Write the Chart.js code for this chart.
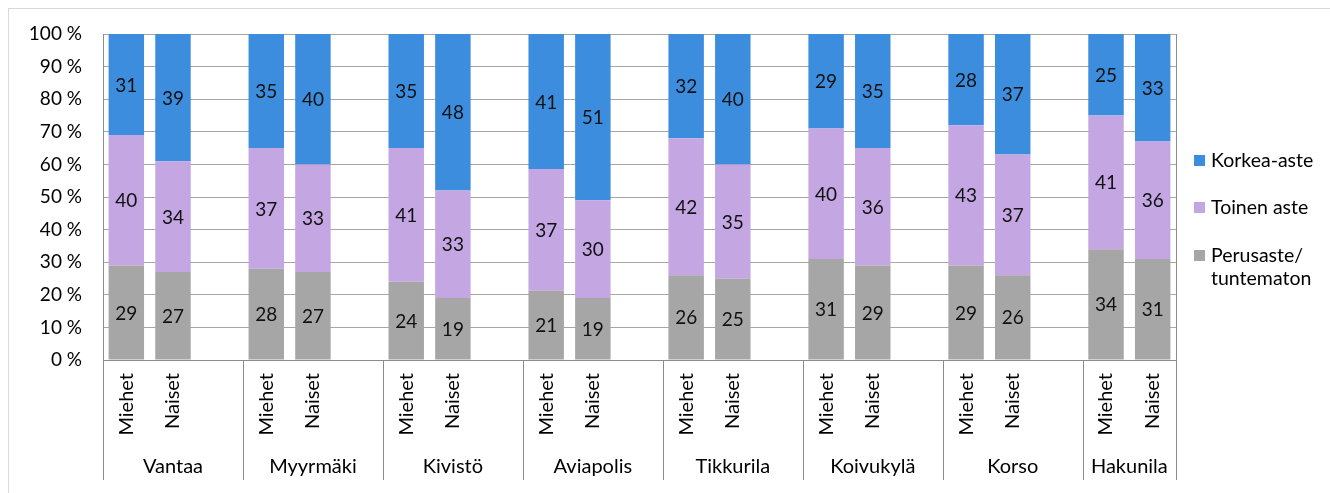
<!DOCTYPE html>
<html>
<head>
<meta charset="utf-8">
<script src="https://cdn.jsdelivr.net/npm/chart.js@4"></script>
<style>
  html, body { margin: 0; padding: 0; background: #fff; }
  #wrap { position: relative; width: 1330px; height: 493px; overflow: hidden; }
  #frame { position: absolute; left: 8px; top: 8px; width: 1340px; height: 500px; border: 1.5px solid #d9d9d9; box-sizing: border-box; }
  canvas { position: absolute; left: 0; top: 0; }
  #legend { position: absolute; left: 1194px; top: 0; font-family: Lato, "Open Sans", sans-serif; font-size: 19.5px; color: #000; }
  .item { position: absolute; left: 0; white-space: nowrap; line-height: 23px; }
  .box { position: absolute; left: 0; width: 11px; height: 11px; }
  .txt { position: absolute; left: 17px; }
</style>
</head>
<body>
<div id="wrap">
  <div id="frame"></div>
  <canvas id="c" width="1330" height="493"></canvas>
  <div id="legend"></div>
</div>
<script>
const groups = ['Vantaa', 'Myyrmäki', 'Kivistö', 'Aviapolis', 'Tikkurila', 'Koivukylä', 'Korso', 'Hakunila'];
const sexes = ['Miehet', 'Naiset'];
const seriesNames = ['Perusaste/\ntuntematon', 'Toinen aste', 'Korkea-aste'];
const seriesColors = ['#a6a6a6', '#c3a6e2', '#3c8ddd'];
const perusMiehet  = [29, 28, 24, 21, 26, 31, 29, 34];
const perusNaiset  = [27, 27, 19, 19, 25, 29, 26, 31];
const toinenMiehet = [40, 37, 41, 37, 42, 40, 43, 41];
const toinenNaiset = [34, 33, 33, 30, 35, 36, 37, 36];
const korkeaMiehet = [31, 35, 35, 41, 32, 29, 28, 25];
const korkeaNaiset = [39, 40, 48, 51, 40, 35, 37, 33];
const yTicks = [0, 10, 20, 30, 40, 50, 60, 70, 80, 90, 100];

// Build slot layout: Miehet, Naiset, spacer per group (no spacer after last)
const labels = [];
const raw = [[], [], []];
const groupSlots = [];
const seriesM = [perusMiehet, toinenMiehet, korkeaMiehet];
const seriesN = [perusNaiset, toinenNaiset, korkeaNaiset];
groups.forEach((g, gi) => {
  const start = labels.length;
  labels.push(sexes[0]); raw.forEach((r, si) => r.push(seriesM[si][gi]));
  labels.push(sexes[1]); raw.forEach((r, si) => r.push(seriesN[si][gi]));
  if (gi < groups.length - 1) { labels.push(''); raw.forEach(r => r.push(null)); }
  groupSlots.push([start, labels.length - 1]);
});
const totals = labels.map((_, i) => raw[0][i] === null ? null : raw[0][i] + raw[1][i] + raw[2][i]);
const pct = raw.map(r => r.map((v, i) => v === null ? null : v / totals[i] * 100));

const FONT = 'Lato, "Open Sans", sans-serif';

const datasets = seriesNames.map((name, si) => ({
  label: name,
  data: pct[si],
  rawData: raw[si],
  backgroundColor: seriesColors[si],
  borderWidth: 0,
  barPercentage: 0.76,
  categoryPercentage: 1.0
}));

const decorPlugin = {
  id: 'decor',
  afterDatasetsDraw(chart) {
    const ctx = chart.ctx;
    ctx.save();
    ctx.font = '19px ' + FONT;
    ctx.fillStyle = '#111';
    ctx.textAlign = 'center';
    ctx.textBaseline = 'middle';
    chart.data.datasets.forEach((ds, di) => {
      const meta = chart.getDatasetMeta(di);
      meta.data.forEach((bar, i) => {
        const v = ds.rawData[i];
        if (v === null) return;
        const p = bar.getProps(['x', 'y', 'base'], true);
        ctx.fillText(String(v), p.x, (p.y + p.base) / 2 + 1);
      });
    });
    ctx.restore();
  },
  afterDraw(chart) {
    const ctx = chart.ctx;
    const xs = chart.scales.x;
    const area = chart.chartArea;
    const half = (xs.getPixelForValue(1) - xs.getPixelForValue(0)) / 2;
    ctx.save();
    ctx.strokeStyle = '#8c8c8c';
    ctx.lineWidth = 1;
    ctx.beginPath();
    ctx.moveTo(Math.round(area.right) + 0.5, area.top);
    ctx.lineTo(Math.round(area.right) + 0.5, area.bottom);
    ctx.stroke();
    const bounds = [];
    groupSlots.forEach(([s, e], gi) => {
      bounds.push(xs.getPixelForValue(s) - half);
      if (gi === groupSlots.length - 1) bounds.push(xs.getPixelForValue(e) + half);
    });
    bounds.forEach(b => {
      const x = Math.round(b) + 0.5;
      ctx.beginPath();
      ctx.moveTo(x, area.bottom);
      ctx.lineTo(x, 480);
      ctx.stroke();
    });
    ctx.font = '20px ' + FONT;
    ctx.fillStyle = '#000';
    ctx.textAlign = 'center';
    ctx.textBaseline = 'middle';
    groupSlots.forEach(([s, e], gi) => {
      const l = xs.getPixelForValue(s) - half;
      const r = xs.getPixelForValue(e) + half;
      ctx.fillText(groups[gi], (l + r) / 2, 467);
    });
    ctx.restore();
  }
};

new Chart(document.getElementById('c'), {
  type: 'bar',
  data: { labels, datasets },
  options: {
    responsive: false,
    animation: false,
    layout: { padding: { left: 0, right: 154, top: 34, bottom: 0 } },
    plugins: { legend: { display: false }, tooltip: { enabled: false } },
    scales: {
      x: {
        stacked: true,
        grid: { display: false, drawTicks: false },
        border: { display: true, color: '#8c8c8c', width: 1 },
        ticks: {
          minRotation: 90, maxRotation: 90, autoSkip: false,
          padding: 13, color: '#000',
          font: { family: FONT, size: 20 }
        },
        afterFit(s) { s.height = 133; }
      },
      y: {
        stacked: true,
        min: 0, max: 100,
        afterBuildTicks(s) { s.ticks = yTicks.map(v => ({ value: v })); },
        grid: { color: '#a6a6a6', lineWidth: 1, drawTicks: false },
        border: { display: true, color: '#8c8c8c', width: 1 },
        ticks: {
          padding: 21, color: '#000',
          font: { family: FONT, size: 19 },
          callback: v => v + ' %'
        },
        afterFit(s) { s.width = 103; }
      }
    }
  },
  plugins: [decorPlugin]
});

const legend = document.getElementById('legend');
const tops = [148, 195, 243];
[2, 1, 0].forEach((si, k) => {
  const it = document.createElement('div');
  it.className = 'item';
  it.style.top = tops[k] + 'px';
  const box = document.createElement('div');
  box.className = 'box';
  box.style.background = seriesColors[si];
  box.style.top = '7px';
  const t = document.createElement('div');
  t.className = 'txt';
  t.innerHTML = seriesNames[si].split('\n').join('<br>');
  it.appendChild(box); it.appendChild(t);
  legend.appendChild(it);
});
</script>
</body>
</html>
